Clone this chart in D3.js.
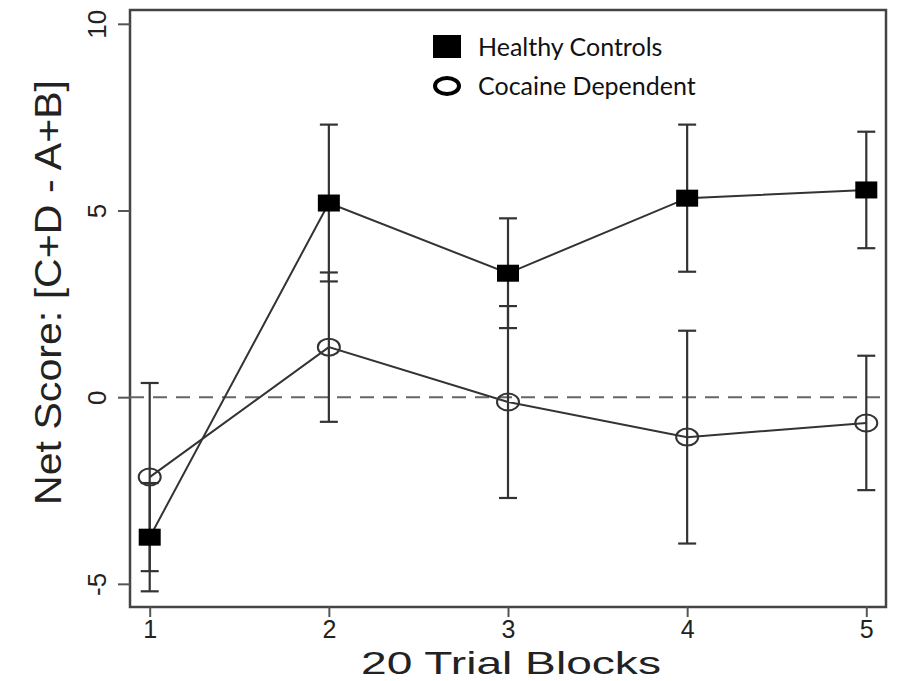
<!DOCTYPE html>
<html>
<head>
<meta charset="utf-8">
<script src="https://cdn.jsdelivr.net/npm/d3@7"></script>
<style>
  body { margin: 0; background: #fff; }
  svg { display: block; }
  .ax text { font-family: "Liberation Sans Narrow", "Liberation Sans", Arial, sans-serif; fill: #222; }
  .legend-item { font-family: Lato, "Open Sans", "Noto Sans", sans-serif; font-size: 25px; fill: #111; }
</style>
</head>
<body>
<svg id="mainChart" width="897" height="681"></svg>
<script>
const blocks = [1, 2, 3, 4, 5];
const healthyMean = [-3.75, 5.2, 3.32, 5.33, 5.55];
const healthyErr = [1.45, 2.1, 1.47, 1.97, 1.56];
const cocaineMean = [-2.14, 1.34, -0.13, -1.07, -0.69];
const cocaineErr = [2.52, 2.0, 2.57, 2.85, 1.8];
const yTicks = [-5, 0, 5, 10];

const attr = { left: 130, right: 886, top: 10, bottom: 607 };
const fontNarrow = '"Liberation Sans Narrow", "Liberation Sans", Arial, sans-serif';

const svg = d3.select("svg#mainChart");

const scaleX = d3.scaleLinear().domain([0.89, 5.11]).range([attr.left, attr.right]);
const scaleY = d3.scaleLinear().domain([-5.62, 10.37]).range([attr.bottom, attr.top]);

function series(means, errs) {
  return blocks.map((b, i) => ({ x: b, y: means[i], e: errs[i] }));
}
const hc = series(healthyMean, healthyErr);
const cd = series(cocaineMean, cocaineErr);

// box
svg.append("rect")
  .attr("x", attr.left).attr("y", attr.top)
  .attr("width", attr.right - attr.left).attr("height", attr.bottom - attr.top)
  .attr("fill", "none").attr("stroke", "#444").attr("stroke-width", 2.5);

// axes
const axisX = d3.axisBottom(scaleX).tickValues(blocks).tickSize(10).tickPadding(3).tickFormat(d => String(d));
const gx = svg.append("g").attr("class", "ax")
  .attr("transform", `translate(0, ${attr.bottom})`)
  .call(axisX);
gx.select(".domain").remove();
gx.selectAll("line").attr("stroke", "#555").attr("stroke-width", 2);
gx.selectAll("text").style("font-size", "25px");

const axisY = d3.axisLeft(scaleY).tickValues(yTicks).tickSize(12).tickPadding(0).tickFormat(d => String(d));
const gy = svg.append("g").attr("class", "ax")
  .attr("transform", `translate(${attr.left}, 0)`)
  .call(axisY);
gy.select(".domain").remove();
gy.selectAll("line").attr("stroke", "#555").attr("stroke-width", 2);
gy.selectAll("text")
  .style("font-size", "26px")
  .attr("text-anchor", "middle")
  .attr("x", 0).attr("y", 0).attr("dy", 0)
  .attr("transform", "translate(-24, 0) rotate(-90)");

svg.append("text")
  .attr("transform", `translate(61, ${(attr.top + attr.bottom) / 2 - 16}) rotate(-90)`)
  .attr("text-anchor", "middle")
  .attr("textLength", 425).attr("lengthAdjust", "spacingAndGlyphs")
  .style("font-family", fontNarrow)
  .style("font-size", "36px").style("fill", "#222")
  .text("Net Score: [C+D - A+B]");

svg.append("text")
  .attr("x", 511).attr("y", 674)
  .attr("text-anchor", "middle")
  .attr("textLength", 300).attr("lengthAdjust", "spacingAndGlyphs")
  .style("font-family", fontNarrow)
  .style("font-size", "32px").style("fill", "#222")
  .text("20 Trial Blocks");

// zero reference
svg.append("line")
  .attr("x1", attr.left).attr("x2", attr.right)
  .attr("y1", scaleY(0)).attr("y2", scaleY(0))
  .attr("stroke", "#666").attr("stroke-width", 2).attr("stroke-dasharray", "14,9");

// error bars
function drawErr(data) {
  const g = svg.append("g");
  data.forEach(d => {
    const x = scaleX(d.x);
    const y1 = scaleY(d.y - d.e), y2 = scaleY(d.y + d.e);
    g.append("line").attr("x1", x).attr("x2", x).attr("y1", y1).attr("y2", y2)
      .attr("stroke", "#333").attr("stroke-width", 2.2);
    [y1, y2].forEach(yy => g.append("line")
      .attr("x1", x - 9).attr("x2", x + 9).attr("y1", yy).attr("y2", yy)
      .attr("stroke", "#333").attr("stroke-width", 2.2));
  });
}
drawErr(hc);
drawErr(cd);

const lineGen = d3.line().x(d => scaleX(d.x)).y(d => scaleY(d.y));
[hc, cd].forEach(s => svg.append("path").datum(s)
  .attr("d", lineGen).attr("fill", "none")
  .attr("stroke", "#333").attr("stroke-width", 2));

svg.selectAll(".dot-cd").data(cd).enter().append("ellipse")
  .attr("cx", d => scaleX(d.x)).attr("cy", d => scaleY(d.y))
  .attr("rx", 11).attr("ry", 8.5)
  .attr("fill", "none").attr("stroke", "#333").attr("stroke-width", 2);

svg.selectAll(".dot-hc").data(hc).enter().append("rect")
  .attr("x", d => scaleX(d.x) - 11).attr("y", d => scaleY(d.y) - 8.5)
  .attr("width", 22).attr("height", 17)
  .attr("fill", "#000");

// legend
svg.append("rect").attr("x", 433).attr("y", 35).attr("width", 28).attr("height", 23).attr("fill", "#000");
svg.append("text").attr("class", "legend-item").attr("x", 478).attr("y", 56).text("Healthy Controls");
svg.append("ellipse").attr("cx", 447).attr("cy", 86).attr("rx", 12).attr("ry", 8)
  .attr("fill", "none").attr("stroke", "#000").attr("stroke-width", 4);
svg.append("text").attr("class", "legend-item").attr("x", 478).attr("y", 95).text("Cocaine Dependent");
</script>
</body>
</html>
